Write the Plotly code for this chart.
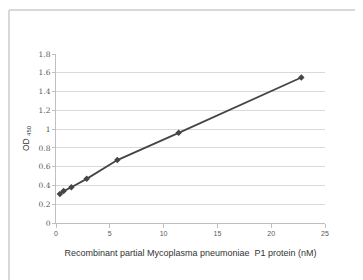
import plotly.graph_objects as go

concentration_nM = [0.36, 0.71, 1.43, 2.85, 5.7, 11.4, 22.8]
od450 = [0.31, 0.34, 0.38, 0.47, 0.67, 0.96, 1.55]
x_ticks = [0, 5, 10, 15, 20, 25]
y_ticks = [0, 0.2, 0.4, 0.6, 0.8, 1, 1.2, 1.4, 1.6, 1.8]
y_tick_labels = ["0", "0.2", "0.4", "0.6", "0.8", "1", "1.2", "1.4", "1.6", "1.8"]

fig = go.Figure()
fig.add_trace(go.Scatter(
    x=concentration_nM, y=od450, mode="lines+markers",
    line=dict(color="#454545", width=1.8),
    marker=dict(symbol="diamond", size=5, color="#454545"),
    showlegend=False, cliponaxis=False,
))

fig.update_layout(
    width=363, height=280,
    margin=dict(l=48, r=46, t=46, b=65),
    paper_bgcolor="white", plot_bgcolor="white",
    font=dict(family="Liberation Sans, DejaVu Sans, sans-serif", color="#404040"),
    xaxis=dict(
        range=[0, 25], tickvals=x_ticks, ticktext=[str(v) for v in x_ticks],
        showgrid=False, zeroline=False, showline=True, linecolor="#bfbfbf", linewidth=1,
        ticks="outside", ticklen=4, tickcolor="#bfbfbf",
        tickfont=dict(size=7, color="#595959"),
        title=dict(text="Recombinant partial Mycoplasma pneumoniae  P1 protein (nM)",
                   font=dict(size=9, color="#333333"), standoff=13),
    ),
    yaxis=dict(
        range=[0, 1.8], tickvals=y_ticks, ticktext=y_tick_labels,
        showgrid=True, gridcolor="#d9d9d9", gridwidth=1, zeroline=False,
        showline=True, linecolor="#bfbfbf", linewidth=1,
        ticks="outside", ticklen=3, tickcolor="#bfbfbf",
        tickfont=dict(size=7.5, color="#595959", family="DejaVu Serif, serif"),
        title=dict(text="OD <sub>450</sub>", font=dict(size=8.5, color="#333333"), standoff=7),
    ),
    shapes=[
        dict(type="line", xref="paper", yref="paper", x0=-0.1747, x1=2.0, y0=1.26, y1=1.26,
             line=dict(color="#d9d9d9", width=2)),
        dict(type="line", xref="paper", yref="paper", x0=-0.1747, x1=-0.1747, y0=1.26, y1=-2.0,
             line=dict(color="#d9d9d9", width=2)),
    ],
)

fig.write_html("out.html")
